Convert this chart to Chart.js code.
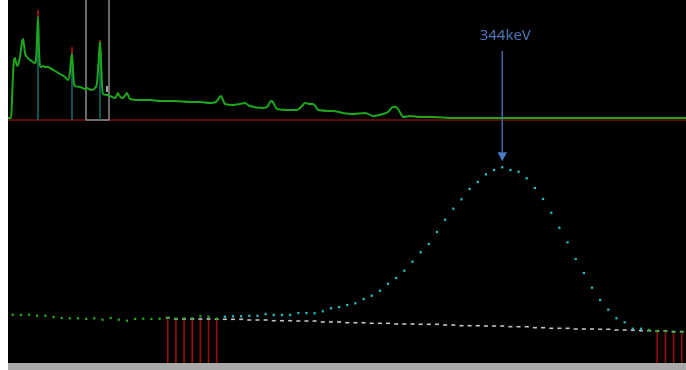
<!DOCTYPE html>
<html>
<head>
<meta charset="utf-8">
<script src="https://cdn.jsdelivr.net/npm/chart.js@4.4.1/dist/chart.umd.min.js"></script>
<style>
  html, body { margin: 0; padding: 0; background: #fff; }
  #panel { position: absolute; left: 8px; top: 0; width: 678px; height: 363px; background: #000; }
  #strip { position: absolute; left: 8px; top: 363px; width: 678px; height: 7px; background: #a9a9a9; }
  #panel canvas { position: absolute; left: 0; top: 0; }
</style>
</head>
<body>
<div id="panel">
  <canvas id="spectrum" width="678" height="122"></canvas>
  <canvas id="roi" width="678" height="363"></canvas>
</div>
<div id="strip"></div>
<script>
// full spectrum (channel, counts)
var specChannels = [0, 9, 12, 15, 18, 21, 24, 27, 30, 36, 42, 45, 48, 51, 57, 66, 75, 81, 84, 87, 90, 93, 96, 99,
  105, 111, 120, 126, 141, 156, 171, 180, 186, 189, 192, 195, 198, 201, 216, 231, 237, 243, 252, 261, 267, 270,
  273, 276, 279, 282, 285, 297, 312, 321, 327, 330, 333, 342, 348, 357, 360, 366, 396, 426, 456, 501, 546, 576,
  606, 624, 633, 639, 645, 651, 675, 696, 711, 720, 726, 765, 780, 786, 792, 798, 807, 846, 867, 882, 891, 906,
  915, 924, 930, 975, 1005, 1035, 1071, 1095, 1125, 1140, 1155, 1164, 1170, 1179, 1185, 1206, 1236, 1275, 1335,
  1416, 1536, 1656, 1776, 1896, 2034];
var specCounts = [2, 2, 20, 45, 60, 62, 58, 54, 55, 63, 78, 81, 75, 67, 63, 60, 58, 57, 60, 80, 103, 70, 54, 53,
  54, 53, 53, 52, 49, 46, 43, 40, 48, 60, 66, 50, 36, 34, 33, 31, 32, 31, 30, 32, 37, 50,
  65, 78, 60, 35, 26, 25, 23, 22, 25, 27, 25, 22, 23, 27, 25, 21, 20, 20, 19, 19, 18, 18,
  17, 18, 22, 24, 20, 16, 15, 16, 17, 15, 14, 12, 14, 18, 19, 16, 11, 10, 10, 14, 17, 16,
  16, 13, 10, 9, 7, 6, 7, 4, 6, 8, 13, 13, 11, 6, 3, 4, 3, 3, 2,
  2, 2, 2, 2, 2, 2];
var specMaxChannel = 2034;

// identified peaks in the full spectrum
var peakChannels = [90, 192, 276];
var peakTops = [110, 73, 80];
var peakMarks = [103, 66, 78];

// region of interest shown below
var roiLeft = 234;
var roiRight = 303;
var cursorChannel = 297;

// zoomed region, one value per bin
var roiCounts = [493, 490, 493, 483, 483, 470, 460, 457, 457, 450, 457, 443, 460, 443, 433, 450, 453, 450, 453,
  463, 453, 457, 457, 477, 473, 453, 473, 477, 477, 483, 483, 500, 490, 490, 490, 510, 510, 507, 527, 557,
  570, 590, 607, 650, 683, 733, 803, 860, 933, 1023, 1117, 1200, 1320, 1443, 1553, 1647, 1750, 1820, 1897,
  1940, 1967, 1940, 1923, 1857, 1760, 1650, 1513, 1363, 1217, 1050, 910, 763, 640, 543, 457, 417, 353, 353,
  340, 330, 330, 323, 323];
// fitted background from bin 19 onward
var bgStart = 19;
var bgCounts = [463, 450, 450, 450, 450, 450, 447, 447, 447, 447, 440, 440, 440, 433, 433, 433, 430, 430, 430,
  420, 420, 420, 413, 413, 413, 407, 407, 407, 400, 400, 400, 397, 397, 397, 390, 390, 383, 383, 383,
  380, 380, 380, 373, 373, 373, 363, 363, 357, 357, 357, 350, 350, 350, 347, 347, 340, 340, 337, 333,
  333, 330, 330, 323, 323];
var leftBgBins = [19, 20, 21, 22, 23, 24, 25];
var rightBgBins = [79, 80, 81, 82];
var peakStart = 26;
var peakEnd = 77;
var peakBin = 60;
var peakLabel = '344keV';

var spectrumPoints = specChannels.map(function (c, i) { return { x: c, y: specCounts[i] }; });

var stemPoints = [];
var tipPoints = [];
for (var i = 0; i < peakChannels.length; i++) {
  stemPoints.push({ x: peakChannels[i], y: 0 }, { x: peakChannels[i], y: peakMarks[i] }, { x: peakChannels[i], y: null });
  tipPoints.push({ x: peakChannels[i], y: peakMarks[i] }, { x: peakChannels[i], y: peakTops[i] }, { x: peakChannels[i], y: null });
}

new Chart(document.getElementById('spectrum'), {
  type: 'line',
  data: {
    datasets: [
      { data: [{ x: cursorChannel, y: 28 }, { x: cursorChannel, y: 34 }], borderColor: '#d8d8d8', borderWidth: 1.5, pointRadius: 0 },
      { data: spectrumPoints, borderColor: '#1ca81c', borderWidth: 2, pointRadius: 0, cubicInterpolationMode: 'monotone' },
      { data: tipPoints, borderColor: '#8c1010', borderWidth: 2, pointRadius: 0, spanGaps: false },
      { data: stemPoints, borderColor: '#17666e', borderWidth: 1.6, pointRadius: 0, spanGaps: false },
      { data: [{ x: roiLeft, y: 0 }, { x: roiLeft, y: 125 }, { x: roiRight, y: 125 }, { x: roiRight, y: 0 }, { x: roiLeft, y: 0 }],
        borderColor: '#8a8a8a', borderWidth: 1.5, pointRadius: 0 },
      { data: [{ x: 0, y: 0 }, { x: specMaxChannel, y: 0 }], borderColor: '#5a0c0c', borderWidth: 2, pointRadius: 0 }
    ]
  },
  options: {
    responsive: false,
    animation: false,
    layout: { padding: 0, autoPadding: false },
    elements: { point: { hoverRadius: 0 } },
    plugins: { legend: { display: false }, tooltip: { enabled: false } },
    scales: {
      x: { type: 'linear', min: 0, max: specMaxChannel, display: false },
      y: { min: -2, max: 120, display: false }
    }
  }
});

// bottom panel
var bins = roiCounts.map(function (v, i) { return i; });
var dotColors = bins.map(function (b) {
  return (b >= peakStart && b <= peakEnd) ? '#26bcc2' : '#22aa22';
});
var bgPoints = bgCounts.map(function (v, i) { return { x: bgStart + i, y: v }; });
var markerPoints = [];
leftBgBins.concat(rightBgBins).forEach(function (b) {
  markerPoints.push({ x: b, y: 0 }, { x: b, y: bgCounts[b - bgStart] - 10 }, { x: b, y: null });
});

var arrowPlugin = {
  id: 'peakArrow',
  afterDatasetsDraw: function (chart) {
    var ctx = chart.ctx;
    var x = chart.scales.x.getPixelForValue(peakBin);
    var y = chart.scales.y.getPixelForValue(roiCounts[peakBin]) - 6;
    ctx.save();
    ctx.strokeStyle = '#4a6ea8';
    ctx.lineWidth = 1.4;
    ctx.beginPath();
    ctx.moveTo(x, 51);
    ctx.lineTo(x, y - 9);
    ctx.stroke();
    ctx.fillStyle = '#4a78c4';
    ctx.beginPath();
    ctx.moveTo(x - 4.7, y - 9);
    ctx.lineTo(x + 4.7, y - 9);
    ctx.lineTo(x, y);
    ctx.closePath();
    ctx.fill();
    ctx.fillStyle = '#4f74b6';
    ctx.font = '15px "Noto Sans", sans-serif';
    ctx.textAlign = 'center';
    ctx.textBaseline = 'alphabetic';
    ctx.fillText(peakLabel, x + 3, 40);
    ctx.restore();
  }
};

new Chart(document.getElementById('roi'), {
  type: 'line',
  data: {
    datasets: [
      { data: roiCounts.map(function (v, i) { return { x: i, y: v }; }), showLine: false,
        pointStyle: 'rect', pointRadius: 1.6, pointBorderWidth: 0,
        pointBackgroundColor: dotColors },
      { data: bgPoints, showLine: false, pointStyle: 'line', pointRadius: 2,
        pointBorderWidth: 1.6, pointBorderColor: '#c4c4c4' },
      { data: markerPoints, borderColor: '#9a0e0e', borderWidth: 1.6, pointRadius: 0, spanGaps: false }
    ]
  },
  options: {
    responsive: false,
    animation: false,
    layout: { padding: { top: 122 }, autoPadding: false },
    elements: { point: { hoverRadius: 0 } },
    plugins: { legend: { display: false }, tooltip: { enabled: false } },
    scales: {
      x: { type: 'linear', min: -0.576, max: 82.52, display: false },
      y: { min: 10, max: 2420, display: false }
    }
  },
  plugins: [arrowPlugin]
});
</script>
</body>
</html>
